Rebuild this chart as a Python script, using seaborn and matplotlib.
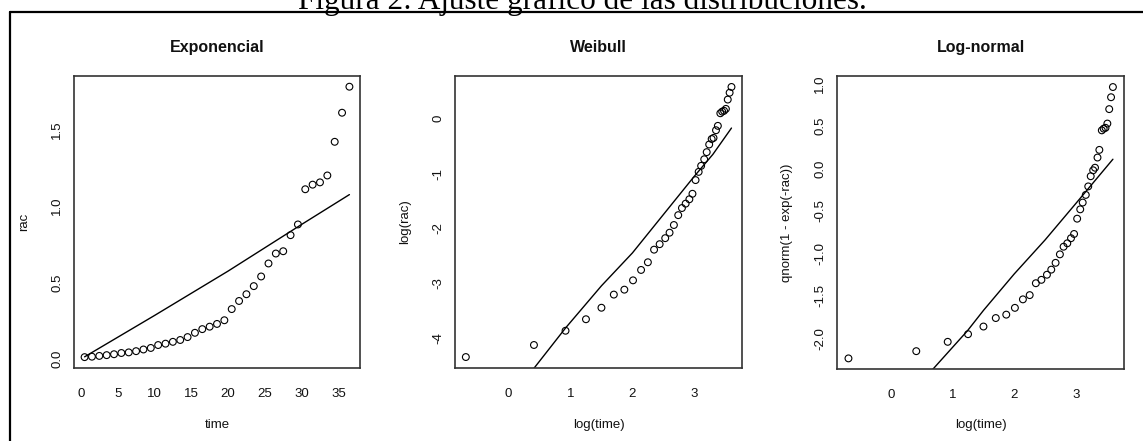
import numpy as np
import matplotlib
matplotlib.use("Agg")
import matplotlib.pyplot as plt
from matplotlib.lines import Line2D
import seaborn as sns

# ---- data ----
time = [0.5, 1.5, 2.5, 3.5, 4.5, 5.5, 6.5, 7.5, 8.5, 9.5, 10.5, 11.5, 12.5,
        13.5, 14.5, 15.5, 16.5, 17.5, 18.5, 19.5, 20.5, 21.5, 22.5, 23.5,
        24.5, 25.5, 26.5, 27.5, 28.5, 29.5, 30.5, 31.5, 32.5, 33.5, 34.5,
        35.5, 36.5]
rac = [0.013, 0.016, 0.021, 0.026, 0.032, 0.040, 0.044, 0.052, 0.063, 0.073,
       0.092, 0.101, 0.113, 0.125, 0.144, 0.172, 0.196, 0.212, 0.230, 0.254,
       0.327, 0.380, 0.424, 0.477, 0.540, 0.625, 0.690, 0.705, 0.810, 0.880,
       1.110, 1.140, 1.155, 1.200, 1.420, 1.610, 1.780]
log_time = [-0.69, 0.41, 0.92, 1.25, 1.50, 1.70, 1.87, 2.01, 2.14, 2.25,
            2.35, 2.44, 2.53, 2.60, 2.67, 2.74, 2.80, 2.86, 2.92, 2.97,
            3.02, 3.07, 3.11, 3.16, 3.20, 3.24, 3.28, 3.31, 3.35, 3.38,
            3.42, 3.45, 3.48, 3.51, 3.54, 3.57, 3.60]
log_rac = [-4.35, -4.13, -3.87, -3.66, -3.45, -3.21, -3.12, -2.95, -2.76,
           -2.62, -2.39, -2.29, -2.18, -2.08, -1.94, -1.76, -1.63, -1.55,
           -1.47, -1.37, -1.12, -0.97, -0.86, -0.74, -0.61, -0.47, -0.37,
           -0.35, -0.21, -0.13, 0.10, 0.13, 0.145, 0.18, 0.35, 0.475, 0.58]
qnorm_rac = [-2.235, -2.15, -2.04, -1.95, -1.86, -1.76, -1.72, -1.64, -1.54,
             -1.49, -1.35, -1.31, -1.25, -1.19, -1.11, -1.01, -0.92, -0.88,
             -0.82, -0.77, -0.59, -0.48, -0.40, -0.31, -0.21, -0.09, -0.02,
             0.01, 0.13, 0.22, 0.45, 0.47, 0.48, 0.53, 0.70, 0.84, 0.96]

# fitted lines
exp_line_x = [0.5, 10, 20, 30, 36.5]
exp_line_y = [0.015, 0.285, 0.575, 0.88, 1.075]
wei_line_x = [0.40, 0.92, 1.5, 2.0, 2.5, 3.0, 3.3, 3.6]
wei_line_y = [-4.57, -3.82, -3.05, -2.45, -1.75, -1.05, -0.65, -0.17]
ln_line_x = [0.67, 1.24, 1.5, 2.0, 2.5, 3.0, 3.3, 3.6]
ln_line_y = [-2.37, -1.91, -1.67, -1.24, -0.84, -0.41, -0.15, 0.11]

titles = ["Exponencial", "Weibull", "Log-normal"]
xlabels = ["time", "log(time)", "log(time)"]
ylabels = ["rac", "log(rac)", "qnorm(1 - exp(-rac))"]
xticks = [[0, 5, 10, 15, 20, 25, 30, 35], [0, 1, 2, 3], [0, 1, 2, 3]]
yticks = [[0.0, 0.5, 1.0, 1.5], [-4, -3, -2, -1, 0],
          [-2.0, -1.5, -1.0, -0.5, 0.0, 0.5, 1.0]]
yticklabels = [["0.0", "0.5", "1.0", "1.5"], ["-4", "-3", "-2", "-1", "0"],
               ["-2.0", "-1.5", "-1.0", "-0.5", "0.0", "0.5", "1.0"]]
fig_title = "Figura 2: Ajuste gráfico de las distribuciones."

sns.set_style("white")
plt.rcParams["font.family"] = ["Liberation Sans", "DejaVu Sans"]

W, H = 1143, 441
fig = plt.figure(figsize=(W / 100, H / 100), dpi=100)

# axes boxes in pixels: left, top, right, bottom
boxes = [(74, 76, 360, 368), (455, 76, 742, 368), (837, 76, 1124, 369)]
lims = [((-0.94, 37.94), (-0.058, 1.85)),
        ((-0.865, 3.77), (-4.55, 0.78)),
        ((-0.876, 3.78), (-2.36, 1.09))]
scat = [(time, rac), (log_time, log_rac), (log_time, qnorm_rac)]
lines = [(exp_line_x, exp_line_y), (wei_line_x, wei_line_y),
         (ln_line_x, ln_line_y)]

for i in range(3):
    l, t, r, b = boxes[i]
    ax = fig.add_axes([l / W, 1 - b / H, (r - l) / W, (b - t) / H])
    sx, sy = scat[i]
    sns.scatterplot(x=sx, y=sy, ax=ax, marker="o", s=24,
                    facecolor="none", edgecolor="black", linewidth=0.8,
                    zorder=3)
    lx, ly = lines[i]
    sns.lineplot(x=lx, y=ly, ax=ax, color="black", linewidth=1.0,
                 sort=False, estimator=None)
    ax.set_xlim(*lims[i][0])
    ax.set_ylim(*lims[i][1])
    ax.set_xticks(xticks[i])
    ax.set_xticklabels([str(v) for v in xticks[i]])
    ax.set_yticks(yticks[i])
    ax.set_yticklabels(yticklabels[i])
    for sp in ax.spines.values():
        sp.set_visible(True)
        sp.set_color("#333333")
        sp.set_linewidth(1.2)
    ax.tick_params(axis="both", direction="out", length=3.6, width=0.8,
                   color="#333333", labelsize=9.5, labelcolor="#111111")
    ax.tick_params(axis="x", pad=10.5)
    ax.tick_params(axis="y", pad=4.2, labelrotation=90)
    for lab in ax.get_yticklabels():
        lab.set_verticalalignment("center")
    ax.set_title(titles[i], fontsize=11.5, fontweight="bold", pad=17,
                 color="#111111")
    ax.set_xlabel(xlabels[i], fontsize=9.5, color="#111111")
    ax.set_ylabel(ylabels[i], fontsize=9.5, color="#111111")
    ax.xaxis.set_label_coords(0.5, -(425 - b) / (b - t))
    ax.xaxis.label.set_verticalalignment("center")
    ax.yaxis.set_label_coords(-50 / (r - l), 0.5)
    ax.yaxis.label.set_verticalalignment("center")
    ax.grid(False)

# outer frame (top and left edges visible)
fig.add_artist(Line2D([10 / W, 1.01], [1 - 12 / H, 1 - 12 / H],
                      transform=fig.transFigure, color="black", lw=1.6))
fig.add_artist(Line2D([10 / W, 10 / W], [1 - 12 / H, -0.01],
                      transform=fig.transFigure, color="black", lw=1.6))

fig.text(582 / W, 1 - 9.5 / H, fig_title, ha="center", va="baseline",
         fontsize=22.5, family=["Liberation Serif", "DejaVu Serif"],
         color="black")

fig.savefig("out.png", dpi=100)
